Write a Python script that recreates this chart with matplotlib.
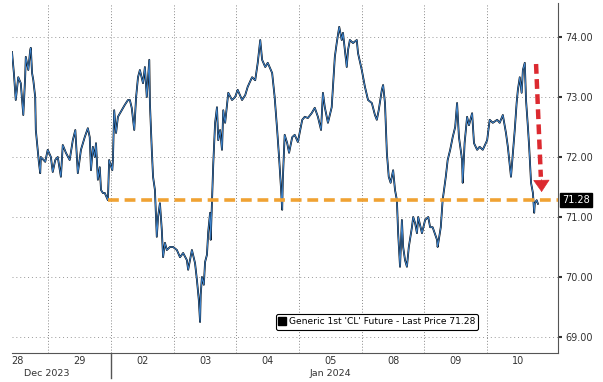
import matplotlib.pyplot as plt
from matplotlib.lines import Line2D

# trading-day index (0 = Dec 28 ... 8 = Jan 10) and price
day_labels = ['28', '29', '02', '03', '04', '05', '08', '09', '10']
month_labels = ['Dec 2023', 'Jan 2024']
month_pos = [0.48, 5.0]
y_ticks = [69, 70, 71, 72, 73, 74]
last_price = 71.28

t = [-0.08, -0.05, -0.02, 0.02, 0.06, 0.10, 0.13, 0.14, 0.18, 0.21, 0.22, 0.24, 0.26, 0.29, 0.30,
     0.35, 0.37, 0.38, 0.45, 0.49, 0.54, 0.57, 0.61, 0.65, 0.70, 0.73, 0.78, 0.84, 0.89, 0.93,
     0.97, 1.02, 1.08, 1.13, 1.16, 1.18, 1.21, 1.24, 1.26, 1.29, 1.32, 1.34, 1.37, 1.40, 1.45,
     1.47, 1.52, 1.53, 1.55, 1.58, 1.61, 1.67, 1.72, 1.77, 1.80, 1.83, 1.87, 1.90, 1.93, 1.96,
     2.01, 2.04, 2.07, 2.11, 2.12, 2.15, 2.17, 2.20, 2.23, 2.25, 2.28, 2.31, 2.33, 2.36, 2.39,
     2.44, 2.49,
     2.55, 2.60, 2.65, 2.71, 2.73, 2.79, 2.84, 2.87, 2.90, 2.92, 2.93, 2.95, 2.98, 3.00, 3.03,
     3.05, 3.08, 3.09, 3.13, 3.16, 3.19, 3.21, 3.24, 3.27, 3.29, 3.32, 3.37, 3.43, 3.48,
     3.52, 3.59, 3.64, 3.68, 3.75, 3.80, 3.84, 3.88, 3.91, 3.96, 4.00, 4.07, 4.11, 4.15, 4.18,
     4.21, 4.23, 4.24, 4.27, 4.31, 4.34, 4.39, 4.43, 4.48,
     4.55, 4.59, 4.64, 4.70, 4.75, 4.80, 4.85, 4.88, 4.91, 4.96, 5.02, 5.04, 5.07, 5.10, 5.14,
     5.18, 5.20, 5.26, 5.28, 5.31, 5.36, 5.42, 5.44, 5.50,
     5.55, 5.60, 5.66, 5.71, 5.74, 5.77, 5.82, 5.84, 5.87, 5.90, 5.93, 5.96, 6.00, 6.03, 6.06,
     6.08, 6.11, 6.14, 6.16, 6.19, 6.22, 6.25, 6.30, 6.32, 6.35, 6.38, 6.40, 6.46,
     6.51, 6.56, 6.59, 6.63, 6.70, 6.71, 6.76, 6.79, 6.84, 6.87, 6.91, 6.95, 6.99, 7.02, 7.05,
     7.10, 7.11, 7.14, 7.18, 7.21, 7.26, 7.29, 7.34, 7.38, 7.43, 7.50,
     7.54, 7.59, 7.66, 7.70, 7.75, 7.80, 7.83, 7.88, 7.91, 7.94, 7.97, 7.99, 8.02, 8.05, 8.07,
     8.10, 8.12, 8.15, 8.17, 8.20, 8.23, 8.25, 8.26, 8.29, 8.31]

price = [73.75, 73.40, 72.95, 73.33, 73.23, 72.70, 73.33, 73.67, 73.45, 73.78, 73.82, 73.40, 73.28, 73.00, 72.45,
         71.90, 71.73, 72.00, 71.92, 72.12, 72.00, 71.75, 71.95, 72.00, 71.67, 72.20, 72.07, 71.95, 72.28, 72.45,
         71.73, 72.12, 72.33, 72.48, 72.33, 71.78, 72.17, 72.00, 72.23, 71.62, 71.83, 71.45, 71.40, 71.40, 71.28,
         71.95, 71.78, 71.95, 72.78, 72.40, 72.67, 72.78, 72.87, 72.95, 72.95, 72.82, 72.45, 73.00, 73.33, 73.45,
         73.23, 73.50, 73.00, 73.62, 72.90, 72.12, 71.67, 71.45, 70.67, 71.00, 71.23, 70.78, 70.33, 70.57, 70.45,
         70.50, 70.50,
         70.45, 70.33, 70.40, 70.28, 70.12, 70.45, 70.23, 69.95, 69.62, 69.25, 69.70, 70.00, 69.87, 70.25, 70.37,
         70.75, 71.07, 70.62, 71.87, 72.57, 72.83, 72.28, 72.45, 72.12, 72.78, 72.57, 73.07, 72.95, 73.00,
         73.12, 72.95, 73.03, 73.17, 73.33, 73.28, 73.57, 73.95, 73.62, 73.50, 73.57, 73.40, 73.00, 72.45, 72.00,
         71.50, 71.12, 71.62, 72.37, 72.23, 72.07, 72.33, 72.37, 72.25,
         72.62, 72.67, 72.65, 72.73, 72.82, 72.67, 72.45, 73.07, 72.83, 72.57, 72.83, 73.17, 73.67, 73.90, 74.17,
         73.95, 74.07, 73.50, 73.78, 73.95, 73.90, 73.95, 73.73, 73.45,
         73.17, 72.95, 72.90, 72.70, 72.62, 72.78, 73.12, 73.20, 72.90, 72.07, 71.67, 71.57, 71.78, 71.45, 71.28,
         70.73, 70.17, 70.95, 70.50, 70.28, 70.17, 70.50, 70.83, 71.00, 70.90, 70.73, 71.00, 70.73,
         70.95, 71.00, 70.83, 70.83, 70.62, 70.50, 70.83, 71.28, 71.67, 71.95, 72.12, 72.33, 72.50, 72.90, 72.33,
         71.95, 71.57, 72.23, 72.67, 72.53, 72.73, 72.23, 72.12, 72.17, 72.12, 72.28,
         72.62, 72.57, 72.62, 72.57, 72.70, 72.40, 72.17, 71.67, 72.07, 72.45, 72.90, 73.12, 73.33, 73.07, 73.45,
         73.57, 72.95, 72.50, 72.17, 71.57, 71.40, 71.07, 71.23, 71.28, 71.22]

# arrow annotation (day index, price)
arrow_start = (8.28, 73.55)
arrow_end = (8.37, 71.37)

plt.rcParams['font.family'] = 'DejaVu Sans'
fig = plt.figure(figsize=(6.03, 3.82), dpi=100)
ax = fig.add_axes([12 / 603, 1 - 353 / 382, 546 / 603, 350 / 382])

ax.plot(t, price, color='black', lw=1.3, zorder=3)
ax.plot(t, price, color='#3f86d0', lw=0.7, zorder=4)

# last price line
ax.plot([1.45, 8.63], [last_price, last_price], color='#f0a233', lw=2.6,
        dashes=(3, 1.6), zorder=5)

# red dashed arrow
ax.plot([arrow_start[0], arrow_end[0] - 0.014], [arrow_start[1], arrow_end[1] + 0.3],
        color='#dc2a30', lw=3.2, dashes=(2.2, 1.2), zorder=6)
ax.annotate('', xy=arrow_end, xytext=(arrow_end[0] - 0.006, arrow_end[1] + 0.3),
            arrowprops=dict(arrowstyle='-|>,head_length=0.8,head_width=0.55',
                            color='#dc2a30', lw=0.5), zorder=6)

ax.set_xlim(-0.08, 8.63)
ax.set_ylim(68.733, 74.567)

# grid
for y in y_ticks:
    ax.axhline(y, color='#999999', lw=0.7, ls=(0, (1, 3)), zorder=1)
for k in range(8):
    ax.axvline(k + 0.5, color='#888888', lw=0.7, ls=(0, (1, 2)), zorder=1)

for s in ['top', 'left']:
    ax.spines[s].set_visible(False)
ax.spines['right'].set_color('#555555')
ax.spines['bottom'].set_color('#555555')

ax.yaxis.tick_right()
ax.set_yticks(y_ticks)
ax.set_yticklabels(['%.2f' % v for v in y_ticks])
ax.tick_params(axis='y', direction='out', length=3, width=1.5, color='#333333',
               labelsize=7, labelcolor='#333333', pad=2)

ax.set_xticks(range(len(day_labels)))
ax.set_xticklabels(day_labels)
ax.tick_params(axis='x', length=0, labelsize=7, labelcolor='#333333', pad=2)

# year separator below the axis
ax.plot([1.5, 1.5], [0, -0.07], transform=ax.get_xaxis_transform(), color='#555555',
        lw=1, clip_on=False)
for lab, pos in zip(month_labels, month_pos):
    ax.text(pos, -0.046, lab, transform=ax.get_xaxis_transform(), ha='center', va='top',
            fontsize=6.8, color='#333333')

# last price tag
ax.text(1.008, last_price, '%.2f' % last_price, transform=ax.get_yaxis_transform(),
        ha='left', va='center', fontsize=7, color='white',
        bbox=dict(boxstyle='square,pad=0.2', fc='black', ec='black'))

handle = Line2D([], [], marker='s', color='black', ls='none', markersize=6)
leg = ax.legend([handle], ["Generic 1st 'CL' Future - Last Price 71.28"], loc='center',
                bbox_to_anchor=(0.669, 0.089), fontsize=6.6, frameon=True, fancybox=True,
                handlelength=0.6, handletextpad=0.4, borderpad=0.35, framealpha=1)
leg.get_frame().set_edgecolor('black')
leg.get_frame().set_linewidth(0.8)

plt.savefig('out.png', dpi=100)
